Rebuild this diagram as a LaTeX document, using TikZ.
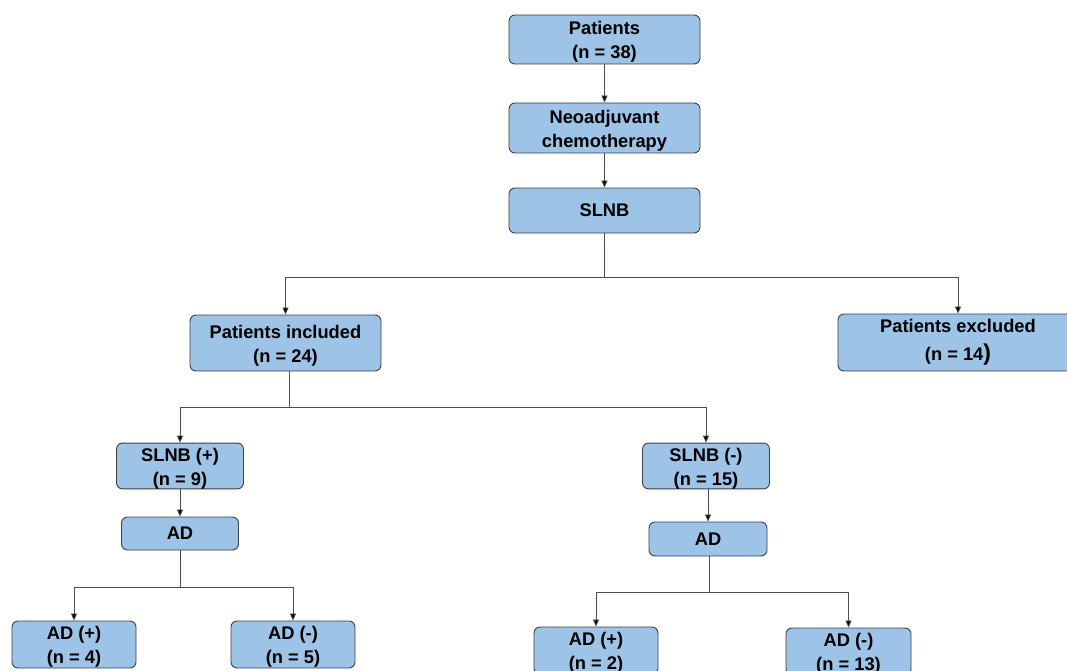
\documentclass[tikz,border=0pt]{standalone}
\usepackage{fontspec}
\setmainfont{Liberation Sans}
\usetikzlibrary{arrows.meta}
\definecolor{boxblue}{HTML}{9DC3E6}
\definecolor{edgegray}{HTML}{404040}
\newcommand{\tstrut}{\rule{0pt}{18pt}}
\tikzset{
  box/.style={draw=edgegray, fill=boxblue, rounded corners=6pt, line width=0.9pt,
    align=center, inner sep=0pt, font=\fontsize{18.3}{24}\selectfont\bfseries},
  ln/.style={draw=black!70, line width=0.8pt},
  arr/.style={ln, -{Triangle[length=7pt,width=6pt,fill=black]}},
}
\begin{document}
\begin{tikzpicture}[x=1pt,y=-1pt]
\useasboundingbox (0,0) rectangle (1067,671);
\clip (0,0) rectangle (1067,671);
\fill[white] (0,0) rectangle (1067,671);

\node[box, minimum width=191pt, minimum height=49pt] (pat) at (604.5,39.5) {\tstrut Patients\\(n = 38)};
\node[box, minimum width=191pt, minimum height=50pt] (neo) at (604.5,128) {\tstrut Neoadjuvant\\chemotherapy};
\node[box, minimum width=191pt, minimum height=45pt] (slnb) at (604.5,210.5) {SLNB};
\node[box, minimum width=191pt, minimum height=56pt] (inc) at (285.5,343) {\tstrut Patients included\\(n = 24)};
\node[box, minimum width=240pt, minimum height=57pt, font=\fontsize{18.3}{28}\selectfont\bfseries] (exc) at (958,342.5) {Patients excluded\\(n = 14{\fontsize{23}{23}\selectfont )}};
\node[box, minimum width=127pt, minimum height=44pt] (sp) at (180,466) {\tstrut SLNB (+)\\(n = 9)};
\node[box, minimum width=117pt, minimum height=33pt] (adl) at (180,533.5) {AD};
\node[box, minimum width=127pt, minimum height=44pt] (sm) at (706,466) {\tstrut SLNB (-)\\(n = 15)};
\node[box, minimum width=118pt, minimum height=34pt] (adr) at (708,539) {AD};
\node[box, minimum width=124pt, minimum height=47pt] (adlp) at (74,644.5) {\tstrut AD (+)\\(n = 4)};
\node[box, minimum width=124pt, minimum height=47pt] (adlm) at (293,644.5) {\tstrut AD (-)\\(n = 5)};
\node[box, minimum width=124pt, minimum height=47pt] (adrp) at (596,650.5) {\tstrut AD (+)\\(n = 2)};
\node[box, minimum width=125pt, minimum height=47pt] (adrm) at (848.5,651.5) {\tstrut AD (-)\\(n = 13)};

\coordinate (j1) at (604.5,277);
\coordinate (j2) at (289,407);
\coordinate (j3) at (180,587);
\coordinate (j4) at (709,592);

\draw[arr] (pat) -- (neo);
\draw[arr] (neo) -- (slnb);
\draw[ln] (slnb) -- (j1);
\draw[arr] (j1) -| (inc);
\draw[arr] (j1) -| (exc);
\draw[ln] (inc.south -| j2) -- (j2);
\draw[arr] (j2) -| (sp);
\draw[arr] (j2) -| (sm);
\draw[arr] (sp) -- (adl);
\draw[arr] (sm.south -| adr) -- (adr);
\draw[ln] (adr.south -| j4) -- (j4);
\draw[ln] (adl) -- (j3);
\draw[arr] (j3) -| (adlp);
\draw[arr] (j3) -| (adlm);
\draw[arr] (j4) -| (adrp);
\draw[arr] (j4) -| (adrm);
\end{tikzpicture}
\end{document}
